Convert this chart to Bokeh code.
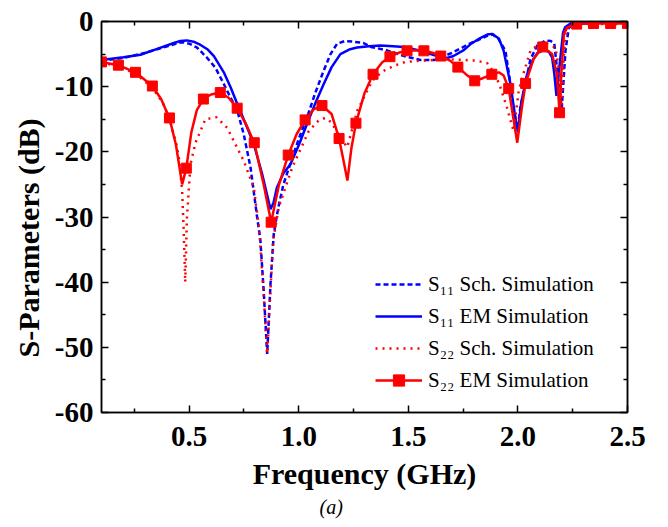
from bokeh.plotting import figure
from bokeh.models import (Range1d, LinearAxis, FixedTicker, PrintfTickFormatter,
                          Legend, LegendItem, Title)
from bokeh.embed import file_html
from bokeh.resources import INLINE

# ---------------- data ----------------
s11_sch_f = [0.10, 0.20, 0.30, 0.40, 0.45, 0.475, 0.50, 0.536, 0.58, 0.62, 0.658, 0.689,
             0.72, 0.749, 0.78, 0.81, 0.825, 0.84, 0.856, 0.871, 0.886, 0.907, 0.93, 0.962,
             1.00, 1.038, 1.075, 1.113, 1.145, 1.175, 1.21, 1.25, 1.295, 1.33, 1.40, 1.48,
             1.555, 1.62, 1.70, 1.78, 1.86, 1.885, 1.91, 1.943, 1.966, 1.98, 2.00, 2.011,
             2.034, 2.057, 2.088, 2.126, 2.15, 2.166, 2.178, 2.194, 2.20, 2.217, 2.232,
             2.26, 2.35, 2.50]
s11_sch_db = [-6.0, -5.6, -4.8, -3.8, -3.3, -3.2, -3.4, -4.0, -5.5, -7.1, -9.6, -11.7,
              -13.7, -17.3, -22.4, -30.0, -33.6, -41.3, -51.0, -40.3, -32.6, -28.5, -25.0, -21.8,
              -18.0, -14.7, -11.0, -7.6, -5.0, -3.4, -3.0, -3.1, -3.3, -3.9, -4.4, -5.3,
              -5.9, -5.9, -4.8, -3.4, -2.2, -2.0, -2.6, -4.5, -9.6, -13.7, -16.5, -13.2,
              -9.6, -5.8, -3.7, -2.9, -3.0, -3.4, -7.1, -12.2, -13.3, -4.5, -1.0,
              -0.2, -0.1, -0.1]

s11_em_f = [0.10, 0.20, 0.278, 0.354, 0.43, 0.46, 0.49, 0.52, 0.552, 0.585, 0.613, 0.658,
            0.689, 0.72, 0.765, 0.795, 0.833, 0.855, 0.871, 0.885, 0.90, 0.93, 0.962, 1.00,
            1.038, 1.075, 1.114, 1.15, 1.19, 1.23, 1.266, 1.32, 1.373, 1.43, 1.48, 1.52,
            1.555, 1.62, 1.677, 1.706, 1.753, 1.783, 1.83, 1.860, 1.882, 1.913, 1.935, 1.966,
            1.985, 2.000, 2.015, 2.042, 2.07, 2.09, 2.118, 2.14, 2.156, 2.166, 2.176, 2.194,
            2.206, 2.215, 2.247, 2.30, 2.50]
s11_em_db = [-5.9, -5.5, -5.1, -4.2, -3.3, -3.0, -2.9, -3.1, -3.6, -4.3, -5.3, -7.8,
             -10.1, -12.7, -16.3, -18.8, -23.4, -26.5, -28.8, -27.8, -25.5, -23.3, -21.9, -19.0,
             -15.7, -12.6, -9.6, -7.0, -5.0, -4.3, -4.0, -3.8, -3.7, -3.8, -3.9, -4.2,
             -4.5, -5.2, -5.6, -5.3, -4.4, -3.5, -2.5, -2.0, -1.9, -2.6, -4.5, -9.6,
             -14.0, -17.0, -12.5, -8.1, -5.8, -4.8, -4.4, -4.6, -5.5, -8.0, -11.4, -5.5,
             -1.7, -0.9, -0.15, -0.1, -0.1]

s22_sch_f = [0.10, 0.18, 0.255, 0.33, 0.38, 0.41, 0.44, 0.453, 0.468, 0.475, 0.482, 0.49,
             0.506, 0.529, 0.574, 0.625, 0.673, 0.749, 0.795, 0.82, 0.84, 0.856, 0.87, 0.883,
             0.909, 0.97, 1.046, 1.09, 1.12, 1.15, 1.183, 1.221, 1.267, 1.335, 1.38, 1.434,
             1.487, 1.56, 1.677, 1.753, 1.81, 1.86, 1.895, 1.92, 1.95, 1.98, 2.004, 2.027,
             2.057, 2.088, 2.118, 2.171, 2.186, 2.20, 2.209, 2.217, 2.232, 2.26, 2.50]
s22_sch_db = [-6.3, -6.9, -8.0, -10.1, -12.5, -15.0, -18.5, -20.9, -26.0, -32.0, -40.0, -30.0,
              -21.9, -18.6, -15.0, -14.7, -16.3, -21.4, -25.5, -32.0, -42.0, -51.0, -42.0, -33.6,
              -28.5, -22.4, -16.8, -15.2, -14.8, -15.5, -17.5, -19.3, -13.7, -9.1, -7.7, -6.8,
              -6.2, -6.0, -5.8, -5.9, -6.0, -6.4, -8.0, -10.1, -13.2, -16.8, -10.6, -7.8,
              -4.5, -3.7, -3.2, -4.0, -7.1, -13.5, -5.5, -2.5, -0.7, -0.4, -0.4]

s22_em_f = [0.100, 0.177, 0.255, 0.332, 0.372, 0.410, 0.440, 0.468, 0.487, 0.510, 0.535,
            0.565, 0.600, 0.642, 0.680, 0.719, 0.760, 0.797, 0.840, 0.874, 0.910, 0.952,
            0.990, 1.029, 1.068, 1.106, 1.150, 1.184, 1.205, 1.222, 1.240, 1.261, 1.300,
            1.339, 1.380, 1.416, 1.455, 1.494, 1.530, 1.571, 1.610, 1.648, 1.690, 1.726,
            1.770, 1.803, 1.840, 1.881, 1.913, 1.935, 1.958, 1.980, 1.997, 2.018, 2.035,
            2.072, 2.113, 2.156, 2.178, 2.190, 2.198, 2.210, 2.225, 2.268, 2.345, 2.423, 2.500]
s22_em_db = [-6.2, -6.7, -7.8, -9.9, -11.9, -14.8, -19.0, -25.0, -22.5, -17.0, -13.6,
             -11.9, -11.2, -10.9, -11.7, -13.3, -15.8, -18.6, -25.0, -30.8, -25.0, -20.5,
             -17.3, -15.1, -13.5, -12.9, -14.2, -17.95, -21.5, -24.4, -19.5, -15.6, -11.0,
             -8.1, -6.3, -5.4, -4.8, -4.5, -4.4, -4.5, -4.8, -5.3, -6.0, -7.0,
             -8.3, -9.1, -8.7, -8.1, -7.8, -8.3, -10.3, -15.0, -18.6, -13.2, -9.5,
             -5.7, -3.9, -5.0, -8.1, -14.0, -8.0, -1.9, -0.9, -0.4, -0.3, -0.3, -0.3]

s22_em_marker_f = [0.100, 0.177, 0.255, 0.332, 0.410, 0.487, 0.565, 0.642, 0.719, 0.797,
                   0.874, 0.952, 1.029, 1.106, 1.184, 1.261, 1.339, 1.416, 1.494, 1.571,
                   1.648, 1.726, 1.803, 1.881, 1.958, 2.035, 2.113, 2.190, 2.268, 2.345,
                   2.423, 2.500]
s22_em_marker_db = [-6.2, -6.7, -7.8, -9.9, -14.8, -22.5, -11.9, -10.9, -13.3, -18.6,
                    -30.8, -20.5, -15.1, -12.9, -17.95, -15.6, -8.1, -5.4, -4.5, -4.5,
                    -5.3, -7.0, -9.1, -8.1, -10.3, -9.5, -3.9, -14.0, -0.4, -0.3,
                    -0.3, -0.3]

x_major_ticks = [0.5, 1.0, 1.5, 2.0, 2.5]
x_minor_ticks = [0.25, 0.75, 1.25, 1.75, 2.25]
y_major_ticks = [-60, -50, -40, -30, -20, -10, 0]
y_minor_ticks = [-55, -45, -35, -25, -15, -5]

legend_labels = ["S\u2081\u2081 Sch. Simulation", "S\u2081\u2081 EM Simulation",
                 "S\u2082\u2082 Sch. Simulation", "S\u2082\u2082 EM Simulation"]
caption_text = "(a)"

# ---------------- figure ----------------
FONT = "Liberation Serif"
BLUE = "#0000FF"
RED = "#FF0000"

p = figure(width=668, height=527, x_range=Range1d(0.1, 2.5), y_range=Range1d(-60, 0),
           output_backend="svg", toolbar_location=None,
           min_border_left=101, min_border_right=41, min_border_top=21, min_border_bottom=115)
p.xgrid.visible = False
p.ygrid.visible = False
p.outline_line_color = "black"
p.outline_line_width = 1.5
p.background_fill_color = "white"
p.border_fill_color = "white"

xt = FixedTicker(ticks=x_major_ticks, minor_ticks=x_minor_ticks)
yt = FixedTicker(ticks=y_major_ticks, minor_ticks=y_minor_ticks)


def style_axis(ax, standoff=8):
    ax.axis_line_color = "black"
    ax.axis_line_width = 1.5
    ax.major_tick_line_color = "black"
    ax.minor_tick_line_color = "black"
    ax.major_tick_line_width = 1.5
    ax.minor_tick_line_width = 1.5
    ax.major_tick_in = 7
    ax.major_tick_out = 0
    ax.minor_tick_in = 4
    ax.minor_tick_out = 0
    ax.major_label_text_font = FONT
    ax.major_label_text_font_style = "bold"
    ax.major_label_text_font_size = "29px"
    ax.major_label_text_color = "black"
    ax.major_label_standoff = standoff


xa = p.xaxis[0]
xa.ticker = xt
xa.formatter = PrintfTickFormatter(format="%.1f")
style_axis(xa, standoff=14)
xa.axis_label = "Frequency (GHz)"
xa.axis_label_text_font = FONT
xa.axis_label_text_font_style = "bold"
xa.axis_label_text_font_size = "30px"
xa.axis_label_text_color = "black"
xa.axis_label_standoff = 8

ya = p.yaxis[0]
ya.ticker = yt
ya.formatter = PrintfTickFormatter(format="%d")
style_axis(ya, standoff=8)

top = LinearAxis(ticker=xt)
style_axis(top, standoff=0)
top.major_label_overrides = {t: "" for t in x_major_ticks}
top.major_label_text_font_size = "1px"
p.add_layout(top, "above")
right = LinearAxis(ticker=yt)
style_axis(right, standoff=0)
right.major_label_overrides = {t: "" for t in y_major_ticks}
right.major_label_text_font_size = "1px"
p.add_layout(right, "right")

ytitle = Title(text="S-Parameters (dB)", align="left", offset=55, standoff=14,
               text_font=FONT, text_font_style="bold", text_font_size="30px",
               text_color="black")
p.add_layout(ytitle, "left")

cap = Title(text=caption_text, align="left", offset=218, standoff=3,
            text_font=FONT, text_font_style="italic", text_font_size="20px",
            text_color="black")
p.add_layout(cap, "below")

# ---------------- glyphs ----------------
r1 = p.line(s11_sch_f, s11_sch_db, line_color=BLUE, line_width=2.5, line_dash="5 3")
r2 = p.line(s11_em_f, s11_em_db, line_color=BLUE, line_width=2.5)
r3 = p.line(s22_sch_f, s22_sch_db, line_color=RED, line_width=2.5, line_dash="2 5")
r4 = p.line(s22_em_f, s22_em_db, line_color=RED, line_width=2.5)
r5 = p.scatter(s22_em_marker_f, s22_em_marker_db, marker="square", size=10,
               fill_color=RED, line_color=RED)

legend = Legend(items=[LegendItem(label=legend_labels[0], renderers=[r1]),
                       LegendItem(label=legend_labels[1], renderers=[r2]),
                       LegendItem(label=legend_labels[2], renderers=[r3]),
                       LegendItem(label=legend_labels[3], renderers=[r4, r5])],
                location=(274, 18), glyph_width=47, glyph_height=28, label_height=28,
                spacing=4, padding=0, margin=0, label_standoff=6,
                label_text_font=FONT, label_text_font_size="21px",
                label_text_color="black",
                background_fill_alpha=0, border_line_alpha=0)
p.add_layout(legend, "center")

open("out.html", "w").write(file_html(p, INLINE))
